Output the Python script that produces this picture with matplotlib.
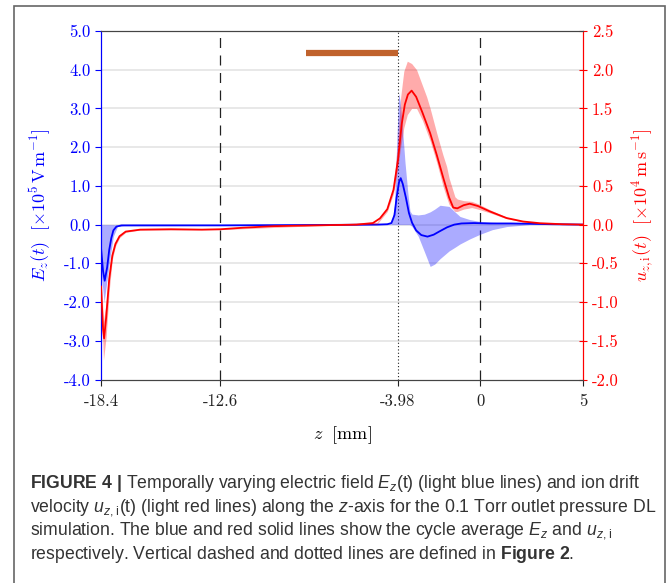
import matplotlib
matplotlib.use("Agg")
import matplotlib.pyplot as plt
from matplotlib.patches import Rectangle

# --- data ---
# cycle averaged E_z [x1e5 V/m]
z_E = [-18.4, -18.3, -18.22, -18.1, -18.0, -17.9, -17.8, -17.65, -17.4, -15.0, -12.6, -8.0,
       -5.0, -4.5, -4.3, -4.15, -4.05, -3.93, -3.85, -3.75, -3.6, -3.45, -3.3, -3.1, -2.85,
       -2.55, -2.25, -1.95, -1.6, -1.25, -0.9, -0.3, 0.5, 1.5, 2.5, 3.5, 5.0]
E_mean = [-0.6, -1.2, -1.45, -1.1, -0.65, -0.35, -0.15, -0.05, -0.02, -0.02, -0.02, -0.01,
          0.0, 0.01, 0.04, 0.25, 0.7, 1.1, 1.2, 1.05, 0.7, 0.3, 0.05, -0.15, -0.27,
          -0.31, -0.26, -0.17, -0.07, 0.0, 0.03, 0.04, 0.03, 0.03, 0.02, 0.01, 0.0]

# envelope of the time varying E_z
z_Eband = [-18.4, -18.25, -18.1, -17.95, -17.8, -17.6, -17.3, -12.6, -4.3, -4.15, -4.05, -3.95,
           -3.88, -3.78, -3.64, -3.5, -3.4, -3.3, -3.0, -2.7, -2.42, -2.2, -1.94, -1.5,
           -1.2, -0.97, -0.5, 0.0, 0.6, 1.3, 2.4, 5.0]
E_upper = [0.0, 0.0, 0.0, 0.0, 0.0, -0.01, -0.01, -0.01, 0.02, 0.5, 2.0, 3.4,
           3.2, 2.6, 1.6, 0.8, 0.35, 0.27, 0.25, 0.27, 0.33, 0.4, 0.5, 0.47,
           0.32, 0.21, 0.13, 0.08, 0.06, 0.04, 0.02, 0.0]
E_lower = [-1.2, -2.0, -1.4, -0.8, -0.3, -0.05, -0.03, -0.02, 0.0, 0.0, 0.0, 0.0,
           0.0, 0.0, 0.0, 0.0, 0.0, -0.05, -0.3, -0.7, -1.08, -1.02, -0.88, -0.68,
           -0.58, -0.5, -0.37, -0.25, -0.13, -0.05, 0.0, 0.0]

# cycle averaged u_z,i [x1e4 m/s]
z_u = [-18.4, -18.3, -18.25, -18.15, -18.0, -17.85, -17.7, -17.5, -17.2, -16.5, -15.0, -13.5,
       -12.6, -11.5, -10.0, -8.0, -6.0, -5.2, -4.86, -4.5, -4.2, -3.98, -3.8, -3.65, -3.5,
       -3.32, -3.1, -2.8, -2.42, -2.1, -1.78, -1.5, -1.3, -1.1, -0.8, -0.5, -0.1, 0.48,
       1.29, 2.09, 2.91, 4.0, 5.0]
u_mean = [-0.8, -1.35, -1.47, -1.2, -0.7, -0.4, -0.25, -0.15, -0.09, -0.065, -0.06, -0.065,
          -0.06, -0.04, -0.02, -0.01, 0.0, 0.02, 0.08, 0.2, 0.45, 0.84, 1.3, 1.55, 1.68,
          1.73, 1.65, 1.45, 1.18, 0.9, 0.6, 0.35, 0.22, 0.21, 0.25, 0.27, 0.24, 0.17,
          0.085, 0.04, 0.018, 0.005, 0.0]

# envelope of the time varying u_z,i
z_uband = [-18.4, -18.28, -18.15, -18.0, -17.85, -17.7, -17.5, -17.2, -16.5, -12.6, -8.0, -5.0,
           -4.5, -4.2, -4.0, -3.85, -3.7, -3.53, -3.32, -3.08, -2.8, -2.59, -2.42, -2.1,
           -1.8, -1.62, -1.5, -1.22, -1.1, -0.8, -0.4, -0.1, 0.5, 1.3, 2.1, 3.0, 5.0]
u_upper = [-0.6, -1.25, -1.0, -0.6, -0.35, -0.22, -0.13, -0.08, -0.06, -0.055, -0.005, 0.03,
           0.22, 0.5, 1.05, 1.65, 1.98, 2.11, 2.08, 2.0, 1.8, 1.65, 1.5, 1.18,
           0.9, 0.75, 0.6, 0.36, 0.33, 0.31, 0.3, 0.27, 0.19, 0.095, 0.045, 0.02, 0.0]
u_lower = [-0.9, -1.75, -1.45, -0.85, -0.45, -0.28, -0.17, -0.1, -0.07, -0.065, -0.015, 0.005,
           0.17, 0.4, 0.72, 1.0, 1.25, 1.42, 1.5, 1.5, 1.35, 1.2, 1.08, 0.8,
           0.5, 0.35, 0.26, 0.17, 0.17, 0.2, 0.22, 0.2, 0.15, 0.075, 0.035, 0.015, 0.0]

dashed_z = [-12.6, 0.0]
dotted_z = [-3.98]
bar_z = [-8.45, -3.98]
bar_E = [4.44, 4.44]

xticks = [-18.4, -12.6, -3.98, 0, 5]
xticklabels = ["-18.4", "-12.6", "-3.98", "0", "5"]
E_ticks = [5.0, 4.0, 3.0, 2.0, 1.0, 0.0, -1.0, -2.0, -3.0, -4.0]
u_ticks = [2.5, 2.0, 1.5, 1.0, 0.5, 0.0, -0.5, -1.0, -1.5, -2.0]

cap = [
    r"$\mathbf{FIGURE\ 4\ |}$ Temporally varying electric field $E_z$(t) (light blue lines) and ion drift",
    r"velocity $u_{z,}$$_{\mathrm{i}}$(t) (light red lines) along the $z$-axis for the 0.1 Torr outlet pressure DL",
    r"simulation. The blue and red solid lines show the cycle average $E_z$ and $u_{z,}$$_{\mathrm{i}}$",
    r"respectively. Vertical dashed and dotted lines are defined in $\mathbf{Figure\ 2}$.",
]

plt.rcParams["font.family"] = "cmr10"
plt.rcParams["mathtext.fontset"] = "custom"
plt.rcParams["mathtext.rm"] = "Liberation Sans"
plt.rcParams["mathtext.it"] = "Liberation Sans:italic"
plt.rcParams["mathtext.bf"] = "Liberation Sans:bold"
plt.rcParams["axes.unicode_minus"] = False

fig = plt.figure(figsize=(6.72, 5.83), dpi=100)
ax = fig.add_axes([101 / 672, 1 - 379.5 / 583, 482 / 672, 348.5 / 583])
ax2 = ax.twinx()

blue = "#0000ff"
red = "#ff0000"

# grid
for e in E_ticks[1:-1]:
    ax.axhline(e, color="#e4e4e4", lw=1.2, zorder=0)

ax.fill_between(z_Eband, E_lower, E_upper, color=blue, alpha=0.33, lw=0, zorder=2)
ax.plot(z_E, E_mean, color=blue, lw=1.3, zorder=3)
ax2.fill_between(z_uband, u_lower, u_upper, color=red, alpha=0.33, lw=0, zorder=2)
ax2.plot(z_u, u_mean, color=red, lw=1.3, zorder=3)

for zz in dashed_z:
    ax.axvline(zz, color="#222222", lw=0.9, ls=(0, (8, 6)), zorder=1)
for zz in dotted_z:
    ax.axvline(zz, color="#222222", lw=0.8, ls=(0, (1, 2)), zorder=1)
ax.plot(bar_z, bar_E, color="#c0622c", lw=4.5, solid_capstyle="butt", zorder=4)

ax.set_xlim(-18.4, 5)
ax.set_ylim(-4, 5)
ax2.set_ylim(-2, 2.5)

ax.set_xticks(xticks)
ax.set_xticklabels(xticklabels)
ax.set_yticks(E_ticks)
ax.set_yticklabels(["%.1f" % v for v in E_ticks])
ax2.set_yticks(u_ticks)
ax2.set_yticklabels(["%.1f" % v for v in u_ticks])

ax.tick_params(axis="x", colors="#222222", labelsize=12, length=4, pad=6)
ax.tick_params(axis="y", colors=blue, labelsize=12, length=4, direction="out")
ax2.tick_params(axis="y", colors=red, labelsize=12, length=6, direction="inout")

for a in (ax, ax2):
    a.spines["top"].set_color("#444444")
    a.spines["bottom"].set_color("#444444")
    a.spines["left"].set_color(blue)
    a.spines["right"].set_color(red)

ax.set_ylabel(r"$E_z(t)\ \ [\times 10^5\,\mathrm{V\,m^{-1}}]$", color=blue, fontsize=13,
              math_fontfamily="cm", labelpad=8)
ax2.set_ylabel(r"$u_{z,\mathrm{i}}(t)\ \ [\times 10^4\,\mathrm{m\,s^{-1}}]$", color=red, fontsize=13,
               math_fontfamily="cm", labelpad=8)
ax.set_xlabel(r"$z\ \ [\mathrm{mm}]$", fontsize=13, math_fontfamily="cm", labelpad=11)

# frame around figure + caption
fig.patches.append(Rectangle((14 / 672, -0.02), 651 / 672, 1.02 - 6 / 583, transform=fig.transFigure,
                             fill=False, edgecolor="#666666", lw=1.2))

texts = []
for i, line in enumerate(cap):
    t = fig.text(30 / 672, 1 - (484 + 23.5 * i) / 583, line, fontsize=11, color="#333333",
                 family="Liberation Sans", va="center", ha="left")
    texts.append(t)

# scale caption so the first line spans the same width as in the original
renderer = fig.canvas.get_renderer()
w = texts[0].get_window_extent(renderer).width
for t in texts:
    t.set_fontsize(11 * 610 / w)

fig.savefig("out.png", dpi=100)
